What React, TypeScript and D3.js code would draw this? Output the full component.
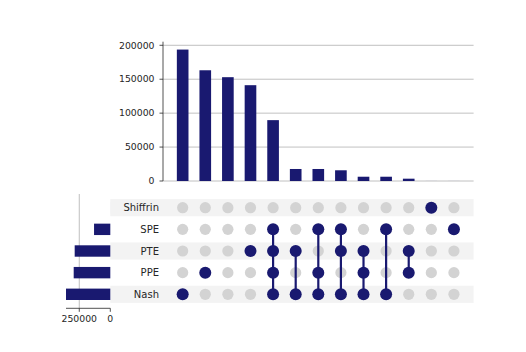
import React from "react";
import * as d3 from "d3";

const setNames = ["Shiffrin", "SPE", "PTE", "PPE", "Nash"];
const setSizes = [100, 131000, 287000, 295000, 357000];

// each intersection: membership list and count
const intersections: string[][] = [
  ["Nash"],
  ["PPE"],
  [],
  ["PTE"],
  ["SPE", "PTE", "PPE", "Nash"],
  ["PTE", "Nash"],
  ["SPE", "PPE", "Nash"],
  ["SPE", "PTE", "Nash"],
  ["PTE", "PPE", "Nash"],
  ["SPE", "Nash"],
  ["PTE", "PPE"],
  ["Shiffrin"],
  ["SPE"],
];
const counts = [193700, 163200, 153000, 141200, 89700, 17700, 17700, 15800, 6300, 6300, 3400, 40, 40];
const yTicks = [0, 50000, 100000, 150000, 200000];
const setTicks = [250000, 0];

const W = 526, H = 352;
const NAVY = "#191970";
const GRAY_DOT = "#d3d3d3";
const GRID = "#b0b0b0";
const TEXT = "#262626";
const FONT = "DejaVu Sans, sans-serif";

export default function App() {
  const n = counts.length;
  const x = d3.scaleLinear().domain([-0.87, n - 1 + 0.87]).range([163, 473.6]);
  const step = x(1) - x(0);
  const y = d3.scaleLinear().domain([0, 205300]).range([181, 41.7]);
  const rowY = d3.scalePoint<string>().domain(setNames).range([207.7, 294.3]);
  const sx = d3.scaleLinear().domain([0, 357000]).range([110.3, 66]);
  const barW = step * 0.515;
  const r = 6;

  return (
    <svg width={W} height={H} style={{ position: "absolute", left: 0, top: 0, background: "#fff" }}
      fontFamily={FONT} fontSize={10}>
      {/* top gridlines */}
      {yTicks.map((t) => (
        <line key={"g" + t} x1={163} x2={473.6} y1={y(t)} y2={y(t)} stroke={GRID} strokeWidth={0.8} />
      ))}
      {/* top bars */}
      {counts.map((c, i) => (
        <rect key={"b" + i} x={x(i) - barW / 2} y={y(c)} width={barW} height={y(0) - y(c)} fill={NAVY} />
      ))}
      {/* top y axis */}
      <line x1={163} x2={163} y1={y.range()[1]} y2={y(0)} stroke={TEXT} strokeWidth={0.8} />
      {yTicks.map((t) => (
        <g key={"t" + t}>
          <line x1={159.5} x2={163} y1={y(t)} y2={y(t)} stroke={TEXT} strokeWidth={0.8} />
          <text x={154.5} y={y(t)} dy="0.35em" textAnchor="end" fill={TEXT} fontSize={9.3}>{t}</text>
        </g>
      ))}
      {/* matrix stripes */}
      {setNames.map((s, k) =>
        k % 2 === 0 ? (
          <rect key={"s" + s} x={110.3} y={rowY(s)! - 8.6} width={473.6 - 110.3} height={17.2} fill="#f3f3f3" />
        ) : null
      )}
      {/* row labels */}
      {setNames.map((s) => (
        <text key={"l" + s} x={159} y={rowY(s)!} dy="0.35em" textAnchor="end" fill={TEXT}>{s}</text>
      ))}
      {/* set size gridline */}
      <line x1={sx(250000)} x2={sx(250000)} y1={194} y2={308.3} stroke={GRID} strokeWidth={0.8} />
      {/* set size bars */}
      {setNames.map((s, k) => (
        <rect key={"sb" + s} x={sx(setSizes[k])} y={rowY(s)! - 5.7} width={sx(0) - sx(setSizes[k])} height={11.4} fill={NAVY} />
      ))}
      {/* set size axis */}
      <line x1={sx(setSizes[4])} x2={sx(0)} y1={308.3} y2={308.3} stroke={TEXT} strokeWidth={0.8} />
      {setTicks.map((t) => (
        <g key={"st" + t}>
          <line x1={sx(t)} x2={sx(t)} y1={308.3} y2={311.8} stroke={TEXT} strokeWidth={0.8} />
          <text x={sx(t)} y={321.5} textAnchor="middle" fill={TEXT} fontSize={9.3}>{t}</text>
        </g>
      ))}
      {/* gray dots */}
      {counts.map((_, i) =>
        setNames.map((s) => (
          <circle key={"d" + i + s} cx={x(i)} cy={rowY(s)!} r={r - 0.4} fill={GRAY_DOT} />
        ))
      )}
      {/* connecting lines */}
      {intersections.map((mem, i) => {
        if (mem.length < 2) return null;
        const ys = mem.map((m) => rowY(m)!);
        return (
          <line key={"c" + i} x1={x(i)} x2={x(i)} y1={d3.min(ys)!} y2={d3.max(ys)!} stroke={NAVY} strokeWidth={2.2} />
        );
      })}
      {/* filled dots */}
      {intersections.map((mem, i) =>
        mem.map((m) => <circle key={"f" + i + m} cx={x(i)} cy={rowY(m)!} r={r} fill={NAVY} />)
      )}
    </svg>
  );
}
